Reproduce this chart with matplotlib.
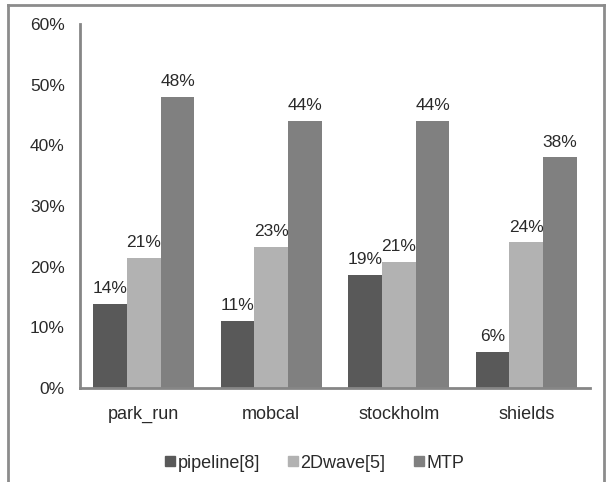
import numpy as np
import matplotlib
matplotlib.use('Agg')
import matplotlib.pyplot as plt
from matplotlib.lines import Line2D

plt.rcParams['font.family'] = ['Liberation Sans', 'DejaVu Sans']

categories = ['park_run', 'mobcal', 'stockholm', 'shields']
series_names = ['pipeline[8]', '2Dwave[5]', 'MTP']
pipeline = [13.8, 11.0, 18.7, 6.0]
wave2d = [21.4, 23.2, 20.8, 24.0]
mtp = [48.0, 44.0, 44.0, 38.0]
pipeline_lbl = ['14%', '11%', '19%', '6%']
wave2d_lbl = ['21%', '23%', '21%', '24%']
mtp_lbl = ['48%', '44%', '44%', '38%']
yticks = [0, 10, 20, 30, 40, 50, 60]

colors = ['#595959', '#b2b2b2', '#808080']
axis_col = '#868686'
txt_col = '#2a2a2a'

fig = plt.figure(figsize=(6.13, 4.82), dpi=100)
ax = fig.add_axes([80/613, 1-388/482, 510/613, 364/482])

x = np.arange(len(categories))
w = 0.265
data = [pipeline, wave2d, mtp]
labels = [pipeline_lbl, wave2d_lbl, mtp_lbl]
for i, (vals, lbls) in enumerate(zip(data, labels)):
    pos = x + (i-1)*w
    ax.bar(pos, vals, w, color=colors[i], label=series_names[i], zorder=2)
    for p, v, t in zip(pos, vals, lbls):
        ax.text(p, v+1.3, t, ha='center', va='bottom', fontsize=12.5, color=txt_col)

ax.set_xlim(-0.5, 3.5)
ax.set_ylim(0, 60)
ax.set_yticks(yticks)
ax.set_yticklabels([f'{t}%' for t in yticks], fontsize=12.5, color=txt_col)
ax.set_xticks(x)
ax.set_xticklabels(categories, fontsize=13, color=txt_col)
ax.tick_params(axis='both', length=0)
ax.tick_params(axis='y', pad=11)
ax.tick_params(axis='x', pad=13)
for s in ['top', 'right']:
    ax.spines[s].set_visible(False)
ax.spines['left'].set_color(axis_col)
ax.spines['left'].set_linewidth(2)
ax.spines['bottom'].set_color(axis_col)
ax.spines['bottom'].set_linewidth(2)

handles = [Line2D([], [], marker='s', linestyle='none', markersize=7,
                  markerfacecolor=c, markeredgecolor=c) for c in colors]
fig.legend(handles, series_names, loc='center', bbox_to_anchor=(314/613, 1-463/482),
           ncol=3, frameon=False, fontsize=13, handletextpad=0.05, columnspacing=1.5,
           handlelength=0.7, labelcolor=txt_col)

# outer frame (left, top, right edges)
frame_col = '#8c8c8c'
fig.add_artist(Line2D([8/613, 8/613], [0, 1-5/482], transform=fig.transFigure, color=frame_col, lw=2))
fig.add_artist(Line2D([8/613, 604/613], [1-5/482, 1-5/482], transform=fig.transFigure, color=frame_col, lw=2))
fig.add_artist(Line2D([604/613, 604/613], [0, 1-5/482], transform=fig.transFigure, color=frame_col, lw=2))

fig.savefig('out.png', dpi=100)
